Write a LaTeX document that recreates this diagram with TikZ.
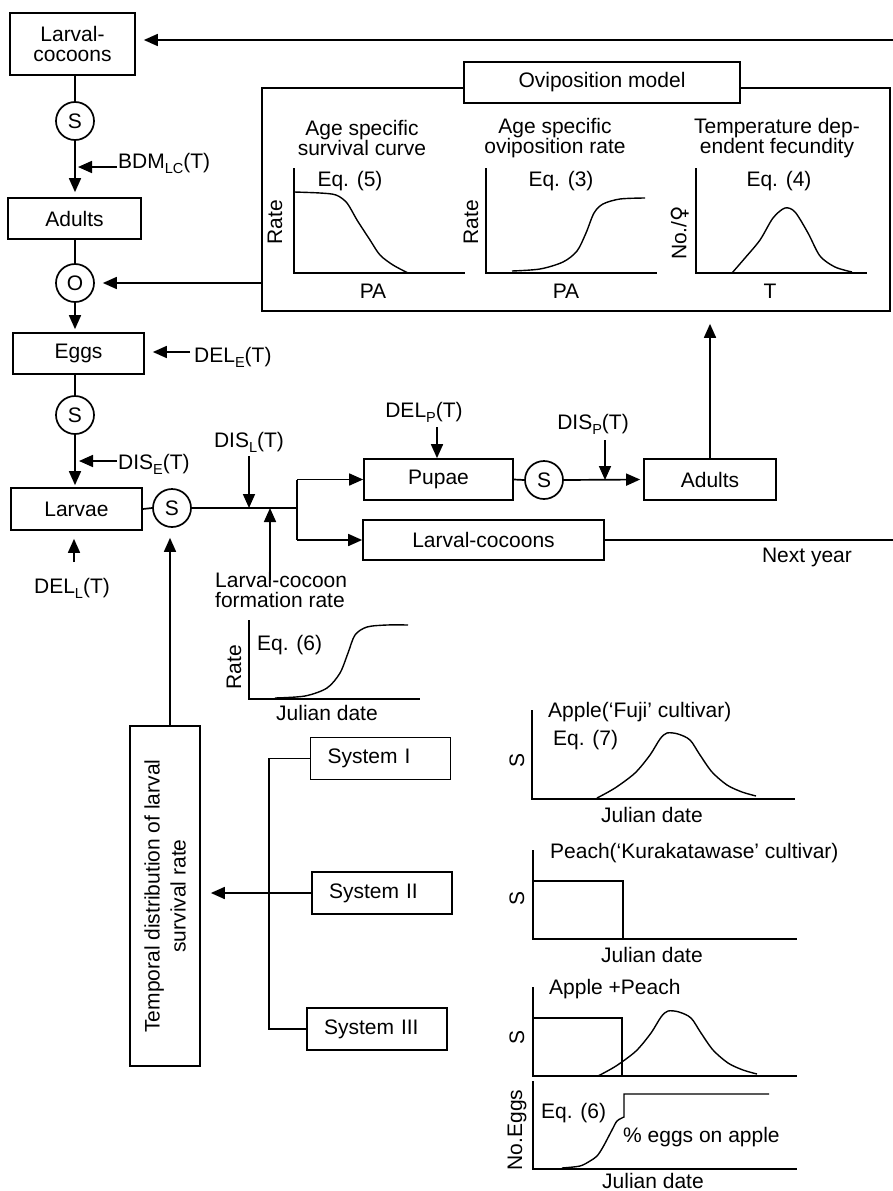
\documentclass[tikz,border=0pt]{standalone}
\usepackage{fontspec}
\setmainfont{Liberation Sans}
\newfontfamily\djv{DejaVu Sans}
\usetikzlibrary{arrows.meta}
\newcommand\mysub[1]{\raisebox{-5pt}{\fontsize{14.5}{14.5}\selectfont #1}}
\begin{document}
\begin{tikzpicture}[x=1pt,y=-1pt,
  font=\fontsize{21}{20.5}\selectfont,
  box/.style={draw, line width=1.7pt, inner sep=0pt, align=center, fill=white},
  sysbox/.style={draw, line width=1.7pt, minimum height=42pt, text width=106pt, inner xsep=17pt, inner ysep=0pt, align=left},
  circ/.style={draw, circle, line width=1.7pt, minimum size=38pt, inner sep=0pt},
  ln/.style={line width=1.7pt},
  arr/.style={line width=1.7pt, -{Triangle[length=14pt,width=12pt]}},
  crv/.style={line width=1.4pt},
  txt/.style={inner sep=0pt, align=center}]
\useasboundingbox (0,0) rectangle (893,1191);

% ---------- left column ----------
\node[box, minimum width=125pt, minimum height=62pt] (lc1) at (72.5,44) {Larval-\\cocoons};
\node[circ] (s1) at (75,121) {S};
\node[box, minimum width=133pt, minimum height=41pt] (ad1) at (74.5,218.5) {Adults};
\node[circ] (o1) at (75,283) {O};
\node[box, minimum width=131pt, minimum height=41pt] (egg) at (78.5,353.5) {Eggs};
\node[circ] (s2) at (75,415) {S};
\node[box, minimum width=131pt, minimum height=42pt] (lar) at (76.5,509) {Larvae};
\node[circ] (s3) at (172,508) {S};

% labels with subscripts
\node[inner sep=0pt, anchor=base west] (bdm) at (118,168) {BDM\mysub{LC}(T)};
\node[inner sep=0pt, anchor=base west] (dele) at (194,362) {DEL\mysub{E}(T)};
\node[inner sep=0pt, anchor=base west] (dise) at (118,469) {DIS\mysub{E}(T)};
\node[inner sep=0pt, anchor=base] (disl) at (249,447) {DIS\mysub{L}(T)};
\node[inner sep=0pt, anchor=base] (dell) at (72,593) {DEL\mysub{L}(T)};
\node[inner sep=0pt, anchor=base] (delp) at (424,417) {DEL\mysub{P}(T)};
\node[inner sep=0pt, anchor=base] (disp) at (593,429) {DIS\mysub{P}(T)};
\node[inner sep=0pt, anchor=north west, align=left] (lcr) at (215,572) {Larval-cocoon\\formation rate};

% ---------- middle row ----------
\node[box, minimum width=149pt, minimum height=41pt] (pup) at (438.5,479.5) {Pupae};
\node[circ] (s4) at (544,480) {S};
\node[box, minimum width=132pt, minimum height=41pt] (ad2) at (710,479.5) {Adults};
\node[box, minimum width=241pt, minimum height=40pt] (lc2) at (483.5,540) {Larval-cocoons};
\node[txt] (nxt) at (807,557) {Next year};

% ---------- oviposition model ----------
\node[draw, line width=1.7pt, minimum width=628pt, minimum height=223pt, inner sep=0pt] (ovi) at (576,199.5) {};
\node[box, minimum width=276pt, minimum height=41pt] (ovt) at (602,82.5) {Oviposition model};

% panel 1
\draw[ln] (294,168) -- (294,273) -- (465,273);
\draw[crv] plot[smooth] coordinates {(294,192) (320,193) (336,195) (347,203) (357,220) (370,240) (380,255) (393,265) (408,273)};
\node[txt, rotate=90] (r1) at (275,222) {Rate};
\node[txt] (e5) at (350,181) {Eq. (5)};
\node[txt] (pa1) at (373,291) {PA};
\node[txt] (t1) at (362,138) {Age specific\\survival curve};

% panel 2
\draw[ln] (486,168) -- (486,273) -- (657,273);
\draw[crv] plot[smooth] coordinates {(512,271) (540,269) (563,262) (577,251) (586,233) (594,213) (603,204) (620,199) (645,198)};
\node[txt, rotate=90] (r2) at (471,222) {Rate};
\node[txt] (e3) at (561,181) {Eq. (3)};
\node[txt] (pa2) at (566,291) {PA};
\node[txt] (t2) at (555,138) {Age specific\\oviposition rate};

% panel 3
\draw[ln] (696,168) -- (696,273) -- (867,273);
\draw[crv] plot[smooth] coordinates {(732,273) (745,258) (760,240) (773,218) (785,208) (795,212) (808,233) (820,256) (835,267) (852,272)};
\node[txt, rotate=90] (r3) at (680,233) {No./{\djv ♀}};
\node[txt] (e4) at (779,181) {Eq. (4)};
\node[txt] (tt) at (770,291) {T};
\node[txt] (t3) at (777,138) {Temperature dep-\\endent fecundity};

% ---------- larval-cocoon formation rate graph ----------
\draw[ln] (249,620) -- (249,699) -- (420,699);
\draw[crv] plot[smooth] coordinates {(275,698) (305,696) (327,688) (340,673) (348,653) (355,635) (367,627) (387,625) (408,625)};
\node[txt, rotate=90] (r4) at (234,667) {Rate};
\node[txt, anchor=west] (e6a) at (257,645) {Eq. (6)};
\node[txt] (jd1) at (327,713) {Julian date};

% ---------- temporal distribution and systems ----------
\node[box, minimum width=70pt, minimum height=340pt] (tmp) at (165,896) {};
\node[txt, rotate=90, font=\fontsize{21}{26}\selectfont] (tmpt) at (tmp.center) {Temporal distribution of larval\\survival rate};
\node[sysbox] (sys1) at (380.5,758.5) {System I};
\node[sysbox] (sys2) at (382,893) {System II};
\node[sysbox] (sys3) at (377,1029) {System III};
\coordinate (brk) at (269,0);

% ---------- right-hand graphs ----------
% Apple
\draw[ln] (532,710) -- (532,799) -- (795,799);
\draw[crv] plot[smooth] coordinates {(597,798) (615,788) (635,773) (650,755) (660,739) (667,733) (678,734) (690,740) (700,755) (712,772) (727,785) (742,792) (756,796)};
\node[txt, anchor=west] (ta) at (548,712) {Apple(‘Fuji’ cultivar)};
\node[txt, anchor=west] (e7) at (553,740) {Eq. (7)};
\node[txt, rotate=90] (sa) at (517,760) {S};
\node[txt] (jd2) at (652,815) {Julian date};
% Peach
\draw[ln] (533,850) -- (533,939) -- (797,939);
\draw[crv] (533,881) -- (623,881) -- (623,939);
\node[txt, anchor=west] (tp) at (550,853) {Peach(‘Kurakatawase’ cultivar)};
\node[txt, rotate=90] (sp) at (517,898) {S};
\node[txt] (jd3) at (652,955) {Julian date};
% Apple + Peach
\draw[ln] (533,987) -- (533,1076) -- (797,1076);
\draw[crv] (533,1018) -- (622,1018) -- (622,1076);
\draw[crv, shift={(1,278)}] plot[smooth] coordinates {(597,798) (615,788) (635,773) (650,755) (660,739) (667,733) (678,734) (690,740) (700,755) (712,772) (727,785) (742,792) (756,796)};
\node[txt, anchor=west] (tap) at (549,989) {Apple +Peach};
\node[txt, rotate=90] (sap) at (517,1037) {S};
% No. Eggs
\draw[ln] (533,1081) -- (533,1169) -- (797,1169);
\draw[crv] plot[smooth] coordinates {(562,1168) (580,1166) (590,1161) (597,1156) (603,1147) (612,1130) (617,1121) (624,1117)} -- (624,1094) -- (769,1094);
\node[txt, rotate=90] (neg) at (517,1130) {No.Eggs};
\node[txt, anchor=west] (e6b) at (541,1113) {Eq. (6)};
\node[txt, anchor=west] (pct) at (623,1137) {\% eggs on apple};
\node[txt] (jd4) at (653,1181) {Julian date};

% ---------- connectors ----------
\coordinate (topR) at (893,40);
\draw[arr, shorten >=8pt] (topR) -- (topR -| lc1.east);
\draw[ln] (s1.north |- lc1.south) -- (s1.north);
\draw[arr, shorten >=5pt] (s1.south) -- (s1.south |- ad1.north);
\coordinate (bdmA) at (117,167);
\draw[arr, shorten >=3pt] (bdmA) -- (bdmA -| s1.south);
\draw[ln] (o1.north |- ad1.south) -- (o1.north);
\draw[arr, shorten >=8pt] (ovi.west |- o1.east) -- (o1.east);
\draw[arr, shorten >=3pt] (o1.south) -- (o1.south |- egg.north);
\coordinate (deleA) at (190,352);
\draw[arr, shorten >=8pt] (deleA) -- (deleA -| egg.east);
\draw[ln] (s2.north |- egg.south) -- (s2.north);
\draw[arr, shorten >=2pt] (s2.south) -- (s2.south |- lar.north);
\coordinate (diseA) at (117,461);
\draw[arr, shorten >=4pt] (diseA) -- (diseA -| s2.south);
\coordinate (dellA) at (74,562);
\draw[arr, shorten >=8pt] (dellA) -- (dellA |- lar.south);
\draw[ln] (lar.east) -- (s3.west);
\coordinate (jn) at (297,508);
\draw[ln] (s3.east) -- (jn);
\draw[ln] (jn |- pup.west) -- (jn |- lc2.west);
\draw[arr] (jn |- pup.west) -- (pup.west);
\draw[arr] (jn |- lc2.west) -- (lc2.west);
\coordinate (dislA) at (249,456);
\draw[arr] (dislA) -- (dislA |- s3.east);
\coordinate (lcrA) at (270,580);
\draw[arr] (lcrA) -- (lcrA |- s3.east);
\coordinate (delpA) at (437,427);
\draw[arr] (delpA) -- (delpA |- pup.north);
\draw[ln] (pup.east) -- (s4.west);
\draw[arr, shorten >=3pt] (s4.east) -- (ad2.west);
\coordinate (dispA) at (605,440);
\draw[arr] (dispA) -- (dispA |- s4.east);
\draw[arr, shorten >=12pt] (ad2.north) -- (ad2.north |- ovi.south);
\coordinate (nextR) at (893,540);
\draw[ln] (lc2.east) -- (nextR);
\draw[arr, shorten >=10pt] (tmp.north -| 170,0) -- (s3.south -| 170,0);
\draw[arr, shorten >=10pt] (sys2.west) -- (tmp.east |- sys2.west);
\draw[ln] (sys1.west) -- (sys1.west -| brk) -- (sys3.west -| brk) -- (sys3.west);
\end{tikzpicture}
\end{document}
